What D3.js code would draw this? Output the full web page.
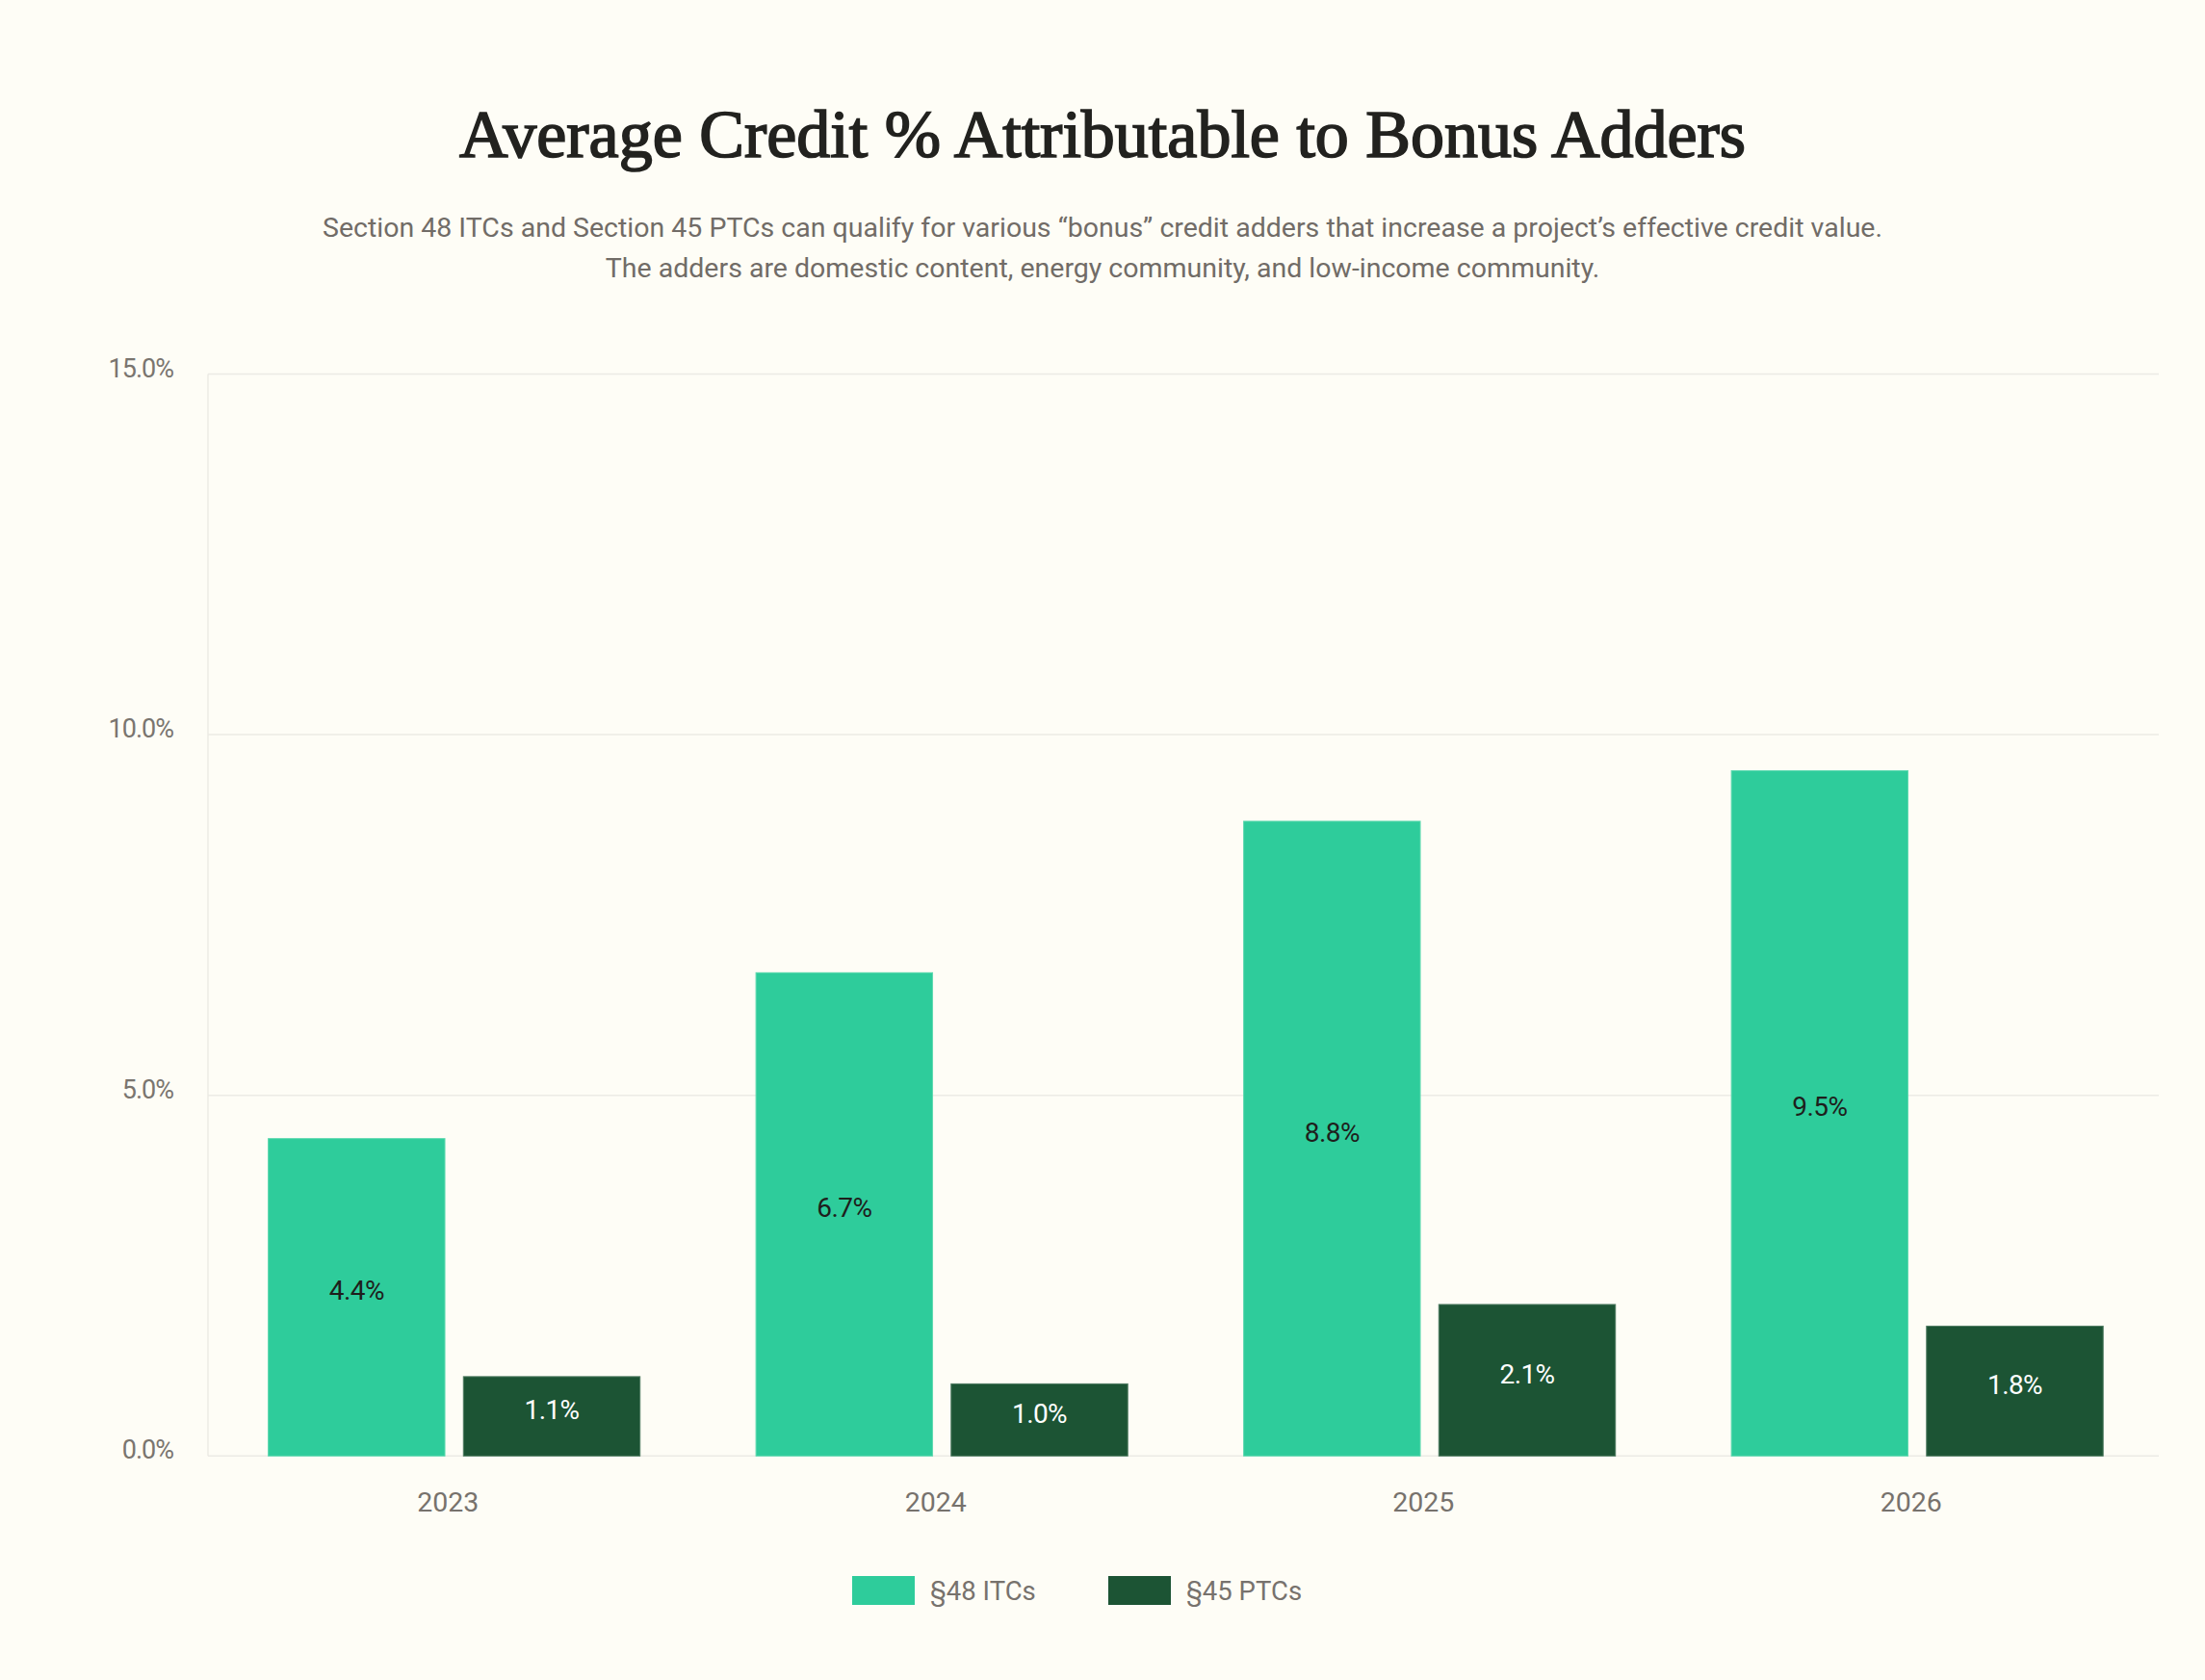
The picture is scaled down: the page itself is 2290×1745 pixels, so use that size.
<!DOCTYPE html>
<html>
<meta charset="utf-8"/>
<head>
  <title>Average Credit % Attributable to Bonus Adders</title>
  <script src="https://d3js.org/d3.v7.min.js" charset="utf-8"></script>
  <style>
    html, body { margin: 0; padding: 0; background: #fefdf6; }
    svg { display: block; }
  </style>
</head>
<body>
<script>
  // DATA
  var years = ['2023', '2024', '2025', '2026'];
  var series = ['§48 ITCs', '§45 PTCs'];
  var itcValues = [4.4, 6.7, 8.8, 9.5];
  var ptcValues = [1.1, 1.0, 2.1, 1.8];
  var yTicks = [0, 5, 10, 15];
  var colors = ['#2ecc9b', '#1c5434'];
  var strokes = ['#5fd9b0', '#4d7a60'];
  var labelColors = ['#1e1e1c', '#ffffff'];

  var title = 'Average Credit % Attributable to Bonus Adders';
  var subtitle = [
    'Section 48 ITCs and Section 45 PTCs can qualify for various \u201cbonus\u201d credit adders that increase a project\u2019s effective credit value.',
    'The adders are domestic content, energy community, and low-income community.'
  ];

  var W = 2290, H = 1745;
  var margin = {top: 388.5, right: 48, bottom: 232.7, left: 216};
  var width = W - margin.left - margin.right,
      height = H - margin.top - margin.bottom;

  var svg = d3.select('body').append('svg')
      .attr('width', W)
      .attr('height', H);

  svg.append('rect').attr('width', W).attr('height', H).attr('fill', '#fefdf6');

  // title + subtitle
  svg.append('text')
      .attr('x', W / 2)
      .attr('y', 163)
      .attr('text-anchor', 'middle')
      .style('font-family', '"Liberation Serif", serif')
      .style('font-weight', 400)
      .style('font-size', '70px')
      .style('fill', '#22221f')
      .style('stroke', '#22221f')
      .style('stroke-width', 1.7)
      .text(title);

  svg.selectAll('text.sub')
      .data(subtitle)
      .enter().append('text')
      .attr('class', 'sub')
      .attr('x', W / 2)
      .attr('y', function(d, i) { return 246 + i * 42; })
      .attr('text-anchor', 'middle')
      .style('font-family', 'Roboto, sans-serif')
      .style('font-size', '28.5px')
      .style('fill', '#716c67')
      .text(function(d) { return d; });

  var g = svg.append('g')
      .attr('transform', 'translate(' + margin.left + ',' + margin.top + ')');

  var x0 = d3.scaleBand().domain(years).range([0, width]);
  var x1 = d3.scaleBand().domain(series).range([0, x0.bandwidth()])
      .paddingInner(0.095).paddingOuter(0.297).align(0.52);
  var y = d3.scaleLinear().domain([0, 15]).range([height, 0]);

  // grid lines
  g.selectAll('line.grid')
      .data(yTicks)
      .enter().append('line')
      .attr('class', 'grid')
      .attr('x1', 0).attr('x2', width)
      .attr('y1', function(d) { return y(d); })
      .attr('y2', function(d) { return y(d); })
      .style('stroke', '#ecebe5')
      .style('stroke-width', 1.5);

  g.append('line')
      .attr('x1', 0).attr('x2', 0)
      .attr('y1', y(15)).attr('y2', y(0))
      .style('stroke', '#ecebe5')
      .style('stroke-width', 1.5);

  // y tick labels
  g.selectAll('text.ytick')
      .data(yTicks)
      .enter().append('text')
      .attr('class', 'ytick')
      .attr('x', -36)
      .attr('y', function(d) { return y(d) + 3; })
      .attr('text-anchor', 'end')
      .style('font-family', 'Roboto, sans-serif')
      .style('font-size', '27px')
      .style('letter-spacing', '-1px')
      .style('fill', '#7a756f')
      .text(function(d) { return d3.format('.1f')(d) + '%'; });

  // x labels
  g.selectAll('text.xtick')
      .data(years)
      .enter().append('text')
      .attr('class', 'xtick')
      .attr('x', function(d) { return x0(d) + x0.bandwidth() / 2 - 4; })
      .attr('y', height + 58)
      .attr('text-anchor', 'middle')
      .style('font-family', 'Roboto, sans-serif')
      .style('font-size', '28.5px')
      .style('fill', '#77726d')
      .text(function(d) { return d; });

  // bars
  var rows = [];
  years.forEach(function(yr, i) {
    rows.push({year: yr, s: 0, value: itcValues[i]});
    rows.push({year: yr, s: 1, value: ptcValues[i]});
  });

  g.selectAll('rect.bar')
      .data(rows)
      .enter().append('rect')
      .attr('class', 'bar')
      .attr('x', function(d) { return x0(d.year) + x1(series[d.s]); })
      .attr('y', function(d) { return y(d.value); })
      .attr('width', x1.bandwidth())
      .attr('height', function(d) { return y(0) - y(d.value); })
      .style('fill', function(d) { return colors[d.s]; })
      .style('stroke', function(d) { return strokes[d.s]; })
      .style('stroke-width', 1);

  g.selectAll('text.val')
      .data(rows)
      .enter().append('text')
      .attr('class', 'val')
      .attr('x', function(d) { return x0(d.year) + x1(series[d.s]) + x1.bandwidth() / 2; })
      .attr('y', function(d) { return (y(d.value) + y(0)) / 2 + 3; })
      .attr('text-anchor', 'middle')
      .style('font-family', 'Roboto, sans-serif')
      .style('font-size', '28px')
      .style('letter-spacing', '-0.6px')
      .style('fill', function(d) { return labelColors[d.s]; })
      .text(function(d) { return d3.format('.1f')(d.value) + '%'; });

  // legend
  var legend = svg.append('g').attr('transform', 'translate(885,1637)');
  var items = legend.selectAll('g.item')
      .data(series)
      .enter().append('g')
      .attr('class', 'item')
      .attr('transform', function(d, i) { return 'translate(' + (i * 266) + ',0)'; });
  items.append('rect')
      .attr('width', 65).attr('height', 30)
      .style('fill', function(d, i) { return colors[i]; });
  items.append('text')
      .attr('x', 81)
      .attr('y', 25)
      .style('font-family', 'Roboto, sans-serif')
      .style('font-size', '27.5px')
      .style('fill', '#77726d')
      .text(function(d) { return d; });
</script>
</body>
</html>
